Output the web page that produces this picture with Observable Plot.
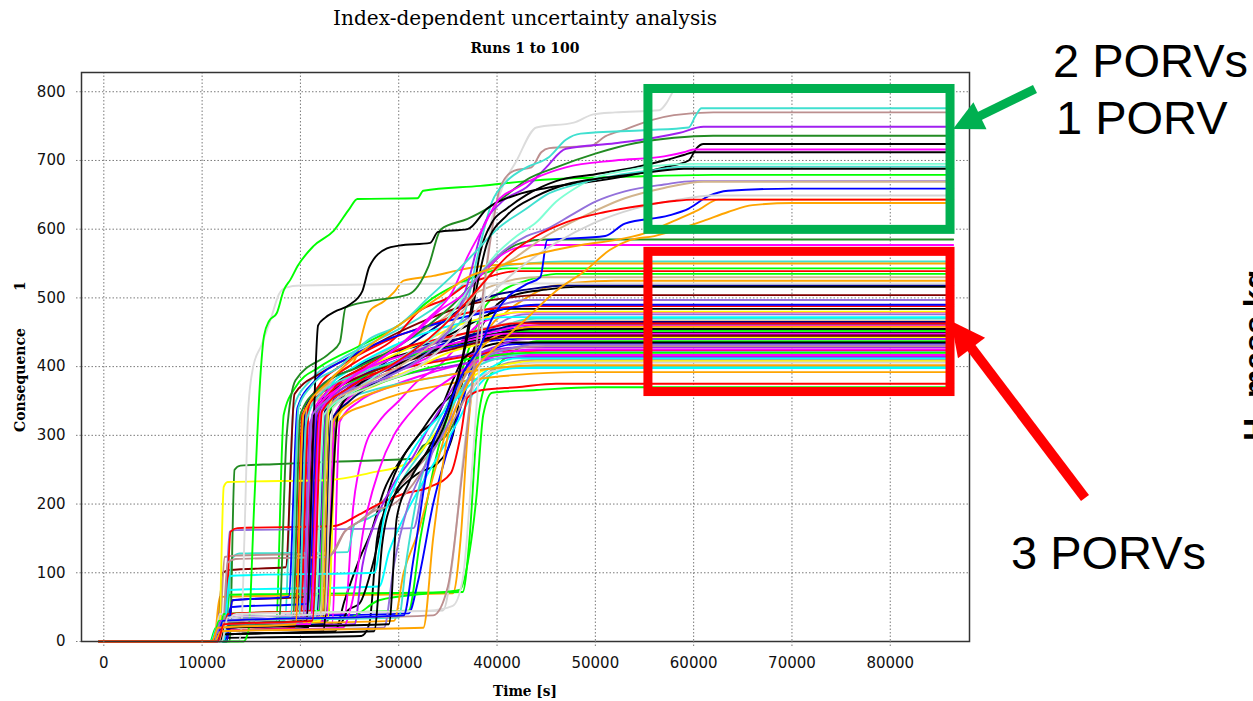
<!DOCTYPE html>
<html>
<head>
<meta charset="utf-8">
<script src="https://cdn.jsdelivr.net/npm/d3@7"></script>
<script src="https://cdn.jsdelivr.net/npm/@observablehq/plot@0.6"></script>
<style>
  html, body { margin: 0; padding: 0; background: #fff; }
  #wrap { position: relative; width: 1253px; height: 701px; overflow: hidden; }
  #wrap svg { position: absolute; left: 0; top: 0; }
</style>
</head>
<body>
<div id="wrap"></div>
<script>
// Each run: "t v t v ..." with t in thousands of seconds and v the consequence value.

// Runs ending high (two or one PORV available)
const upperRuns = [
  "-0.5 0 14.2 0 14.7 15 15.3 200 15.9 380 16.3 445 16.8 466 17.6 478 18.3 511 19.0 527 19.7 546 21.3 575 23.4 598 25.0 630 25.8 644 31.9 645 32.5 656 38.3 663 43.9 671 55 677 62 679 86.4 679",
  "-0.5 0 11.8 0 12.3 20 13.5 40 33 45 35.5 52 36.5 90 37.5 260 38.5 460 39.3 600 40.2 648 42 700 44 748 47.8 755 49.8 767 52 770 56.5 773 57.3 785 57.9 800 58.6 808 86.4 808",
  "-0.5 0 11.5 0 12.0 25 16.5 32 33.5 38 35 80 36.5 250 37.8 420 38.7 520 39.5 600 40.3 660 41.7 685 43.5 690 44.5 712 45.3 718 49.5 721 51 735 53 745 55.5 758 58 766 62 770 86.4 770",
  "-0.5 0 11 0 11.6 20 19.8 25 20.6 320 22 360 26 390 30 410 34 440 36.5 470 38 560 39.5 640 41 670 43 690 45.3 705 47 730 48.5 739 55 744 59.5 748 60.2 765 60.8 776 86.4 776",
  "-0.5 0 11.3 0 11.9 30 20.5 35 21.6 330 24 365 28 390 31.5 420 35 450 37 520 38.5 600 40.5 640 43 661 45 690 47 717 52 725 56 733 58.5 740 61 749 86.4 749",
  "-0.5 0 11.0 0 11.6 20 17.8 28 18.6 300 19.5 380 23 420 24 435 24.6 486 27 495 31 505 33 545 34.3 600 37 615 39 630 41 650 43 672 46 690 50 710 54 725 58 733 62 736 86.4 736",
  "-0.5 0 11.6 0 12.1 25 20.6 30 21.3 300 21.8 460 22.5 471 23.5 480 25 490 26.3 510 27 545 28.8 572 30 576 33.2 580 34 596 37 600 39 630 42 650 45 660 50 670 54 680 57 690 59.5 700 60.3 718 61 724 86.4 724",
  "-0.5 0 11.4 0 12.0 20 21.0 25 22.0 330 24 370 27 400 30 430 33 470 35.5 510 37 560 38.5 600 40 640 42 660 44 675 47 690 52 700 57 706 59 712 60 716 86.4 716",
  "-0.5 0 11.0 0 11.6 10 27.5 15 28.3 140 29.5 210 32 260 34.5 310 36 380 37.2 470 38.2 560 39.5 610 41 630 43 650 46 670 50 680 54 690 57 700 59 708 60 712 86.4 712",
  "-0.5 0 11.5 0 12.1 30 21.5 35 22.4 330 25 360 28 390 31 420 34 450 36 490 38 530 40 565 42 590 44 610 46 640 48 660 50 675 53 685 56 692 60 695 86.4 695",
  "-0.5 0 12.0 0 12.6 30 19.0 35 19.8 340 21 370 24 400 27 440 30 460 33 500 36 540 38 570 40 600 43 630 45 650 48 665 52 678 56 686 59 691 86.4 691",
  "-0.5 0 11.8 0 12.3 20 29.0 25 29.8 180 31 230 33 280 35 340 36.8 430 38 520 39 580 41 620 44 648 47 665 51 675 55 682 59 688 86.4 688",
  "-0.5 0 11.2 0 11.8 25 20.2 28 21.2 330 24 360 28 380 32 410 35 450 37.5 520 40 560 43 590 45 600 47.5 620 50 640 53 655 57 665 60 670 86.4 670",
  "-0.5 0 11.7 0 12.3 30 22.0 35 22.8 340 26 370 30 400 34 440 37 490 39 530 42 560 45 590 49 620 53 645 57 660 61 669 86.4 669",
  "-0.5 0 11.5 0 12.1 30 30.5 38 31.5 120 33 260 35 340 36.5 390 38.3 430 39.5 470 41 500 43 520 44.4 530 45.1 584 51 590 53 608 57.5 620 59.5 630 61.5 648 63.5 656 70 659 86.4 659",
  "-0.5 0 12.0 0 12.6 35 22.5 40 23.3 340 27 370 32 400 36 450 39 500 42 540 46 580 50 610 54 630 58 642 62 649 86.4 649",
  "-0.5 0 11.0 0 11.6 20 19.5 25 20.3 330 23 380 27 430 31 470 34 500 37 530 40 545 43 560 46 570 49 578 52 584 55 594 58 612 60.5 628 62.5 643 86.4 643",
  "-0.5 0 11.3 0 11.9 15 32.5 20 33.5 150 35 300 36.5 360 38 400 40 430 43 470 46 510 49 540 51.5 570 53.5 584 56 590 58.5 600 61 612 63.5 625 66 635 70 638 86.4 638",
  "-0.5 0 11.6 0 12.2 25 21.2 30 22.2 335 25 370 29 400 33 440 36 480 38.5 520 41 560 44 590 47 610 51 625 55 635 58 641 60 643 86.4 643"
];
const upperColors = ["#00ff00", "#dcdcdc", "#bc8f8f", "#40e0d0", "#a020f0", "#228b22", "#000000",
  "#ff00ff", "#000000", "#7fffd4", "#40e0d0", "#000000", "#9370db", "#d2b48c", "#0000ff",
  "#d3d3d3", "#ffa500", "#ffa500", "#ff0000"];

// Runs ending between the two groups
const middleRuns = [
  "-0.5 0 11.2 0 11.8 25 19.2 28 20.0 330 22 370 26 400 30 430 33 460 35.5 490 37.5 520 39.5 550 41 570 42.5 580 45 585 86.4 585",
  "-0.5 0 11.6 0 12.2 20 20.6 25 21.5 335 24 370 28 410 31 440 34 480 37 510 38.8 540 40.2 560 41.8 572 44 577 86.4 577"
];
const middleColors = ["#228b22", "#ff00ff"];

// Runs ending low (three PORVs available)
const lowerRuns = [
  "-0.5 0 11.0 0 11.6 25 18.4 30 19.3 340 21 380 24 410 28 440 32 470 35 500 37.5 530 40 545 43 550 47 553 86.4 553",
  "-0.5 0 11.4 0 12.0 25 20.8 30 21.7 340 23 380 25.5 409 27 480 28.5 495 29.5 508 30.5 525 33.5 532 36 540 37.8 545 40 548 44 550 86.4 550",
  "-0.5 0 10.8 0 11.4 20 17.5 25 18.3 330 19.5 370 22 400 26 430 30 460 33.5 500 36 520 38.5 535 41 543 86.4 543",
  "-0.5 0 11.4 0 12.0 25 20.0 30 20.9 345 23 380 26 410 29.5 440 32 480 35 500 37 520 39 530 42 539 86.4 539",
  "-0.5 0 12.0 0 12.6 40 31.0 45 32.2 150 34 280 35.5 350 37 420 38.5 480 40.5 510 43 525 46 535 86.4 535",
  "-0.5 0 11.6 0 12.2 30 19.8 35 20.7 340 23 375 27 410 31 440 34.5 470 37 500 40 520 44 530 86.4 530",
  "-0.5 0 11.2 0 11.8 65 35.5 70 36.3 150 37.0 300 37.8 400 39 450 41 480 43 500 45 515 48 522 52 525 86.4 525",
  "-0.5 0 11.3 0 11.9 25 21.6 30 22.5 335 25 370 28 400 31 430 34 460 37 490 40 505 43 512 47 518 86.4 518",
  "-0.5 0 11.7 0 12.3 10 23.5 15 24.5 60 26 120 27.2 160 28.5 220 30 260 32 300 34 340 36 370 37.5 420 38.5 460 40 490 42 505 45 512 48 516 86.4 516",
  "-0.5 0 11.5 0 12.1 100 12.8 104 18.5 108 19.4 360 22 390 26 420 30 450 34 475 37 490 40 498 44 504 86.4 504",
  "-0.5 0 11.6 0 12.2 20 20.4 25 21.3 330 24 360 28 390 32 420 35 450 37.5 475 40 488 43 497 86.4 497",
  "-0.5 0 11.1 0 11.7 20 22.2 25 22.9 330 24.5 360 27 390 30 410 33 430 35 445 37 460 39 475 41 484 86.4 484",
  "-0.5 0 11.8 0 12.4 35 24.5 40 25.4 200 26.5 280 28 320 30 350 32 380 34 400 36 430 38 460 40 472 42 479 86.4 479",
  "-0.5 0 12.2 0 12.8 160 13.5 162 31.5 165 32.5 230 34 300 35.5 350 37 400 38.5 440 40.5 465 43 476 86.4 476",
  "-0.5 0 12.4 0 13.0 120 13.8 128 24.8 130 25.5 170 27 180 29 200 31 250 32.5 280 34 320 35.5 360 37 400 39 440 41 460 44 470 86.4 470",
  "-0.5 0 11.2 0 11.8 30 19.0 35 19.8 320 22 355 25 380 29 410 33 430 36 445 40 460 44 466 86.4 466",
  "-0.5 0 12.8 0 13.3 250 13.9 256 17.3 258 24 262 31.5 266 32.5 285 34.5 295 36 330 37.5 400 39 440 42 455 45 461 86.4 461",
  "-0.5 0 11.6 0 12.2 20 21.0 25 21.8 335 24 360 27 390 30 410 33 425 36 440 39 450 42 455 86.4 455",
  "-0.5 0 11.9 0 12.5 30 19.6 35 20.5 340 22 370 25 395 28 415 32 430 36 440 40 448 44 453 86.4 453",
  "-0.5 0 12.0 0 12.5 15 20.8 20 21.5 300 22.5 360 24 380 27 400 31 420 35 430 38.5 440 42 449 86.4 449",
  "-0.5 0 10.9 0 11.5 5 26.2 8 27.0 25 27.8 150 28.6 190 30 220 32 245 34 260 35.5 300 36.5 380 37.5 420 39 440 42 447 86.4 447",
  "-0.5 0 11.4 0 12.0 25 22.8 30 23.6 330 25 360 28 390 32 415 36 430 40 440 43 445 86.4 445",
  "-0.5 0 12.2 0 12.8 68 36.5 72 37.2 150 37.9 300 38.6 365 40 400 42 425 44 437 86.4 437",
  "-0.5 0 11.8 0 12.4 35 31.0 41 32.0 90 33.5 200 35 280 36.5 350 37.6 405 39 420 42 433 86.4 433",
  "-0.5 0 11.3 0 11.9 20 20.2 25 21.0 320 23 350 26 375 30 395 34 410 38 420 42 428 86.4 428",
  "-0.5 0 11.0 0 11.6 15 19.4 20 20.2 330 22 360 25 380 29 395 33 405 37 415 41 423 86.4 423",
  "-0.5 0 11.5 0 12.1 20 23.2 25 24.0 320 26 350 29 370 33 390 37 405 41 417 86.4 417",
  "-0.5 0 11.2 0 11.8 30 21.8 35 22.6 330 24 355 27 375 31 390 35 400 39 410 43 414 86.4 414",
  "-0.5 0 11.7 0 12.3 123 13.3 125 23.2 128 24.5 160 26 175 28 200 31 240 33.5 280 35.5 320 37 360 39 390 41 405 44 410 86.4 410",
  "-0.5 0 11.7 0 12.2 225 12.6 232 23.0 235 27 245 31 260 33 290 35 330 36.5 370 38 390 40 400 44 408 86.4 408",
  "-0.5 0 11.2 0 11.8 40 34.5 45 35.5 120 36.5 260 37.3 350 38.2 385 40 395 44 406 86.4 406",
  "-0.5 0 11.6 0 12.2 25 20.8 30 21.6 320 23 345 26 360 30 375 34 385 38 395 42 400 86.4 400",
  "-0.5 0 12.1 0 12.7 75 28 80 29 130 30.5 180 32 220 34 270 36 320 37.5 360 39 385 42 398 86.4 398",
  "-0.5 0 11.9 0 12.5 30 22.2 35 23.0 300 24.5 330 27 345 30 360 34 372 38 382 42 388 48 392 86.4 392",
  "-0.5 0 12.3 0 12.9 160 13.6 165 23.4 168 26 185 28.1 201 30.5 215 33.2 225 35.3 245 36.3 300 37 355 38.5 366 42 370 46 375 86.4 375",
  "-0.5 0 11.5 0 12.1 30 25 35 28 60 33 70 36.2 75 37.2 130 37.9 210 38.6 330 39.5 362 44 366 50 370 86.4 370",
  "-0.5 0 11.3 0 11.9 25 22.6 30 23.5 330 25 355 28 380 31 400 34 420 37 440 40 452 43 460 86.4 460",
  "-0.5 0 10.9 0 11.5 20 21.3 25 22.0 330 23 370 25 395 28 420 31 440 34 455 37 465 41 472 86.4 472",
  "-0.5 0 12.1 0 12.7 30 22.8 35 23.7 320 25 350 28 375 32 400 35 420 38 432 41 442 86.4 442",
  "-0.5 0 11.4 0 12.0 20 19.9 25 20.8 340 22 375 24 400 27 425 30 445 33 460 36 475 40 485 44 488 86.4 488",
  "-0.5 0 11.9 0 12.4 20 24.0 25 24.8 45 26 55 27.5 120 29 220 30.5 270 32 300 34 330 35.5 380 36.5 410 38 425 41 435 86.4 435",
  "-0.5 0 12.3 0 12.9 50 20.8 55 21.7 330 23 360 26 385 30 410 34 425 38 435 42 440 86.4 440",
  "-0.5 0 11.1 0 11.7 30 20.6 35 21.5 330 23.5 360 27 390 31 415 35 430 39 445 43 452 86.4 452",
  "-0.5 0 11.6 0 12.2 25 29.5 30 30.5 100 32 160 33.5 240 34.5 290 35.5 340 36.5 380 38 420 40 445 44 458 86.4 458",
  "-0.5 0 11.0 0 11.6 15 24.3 20 25.3 60 26.5 170 28 250 29.5 300 31 330 33 360 35 380 37 400 40 418 44 425 86.4 425",
  "-0.5 0 11.5 0 12.1 20 25.5 25 26.3 110 27.5 170 29.5 230 31.5 270 33 310 34.5 345 36 380 37.5 410 40 430 43 440 86.4 440",
  "-0.5 0 11.3 0 11.9 30 30.0 35 30.8 120 32 220 33.5 290 35 330 36.5 370 38 400 41 415 45 421 86.4 421",
  "-0.5 0 12.0 0 12.6 115 13.4 120 22.8 123 24.5 160 26 175 27.5 190 29.5 200 31.5 230 33.5 280 35 340 36.5 380 38 410 41 425 45 430 86.4 430",
  "-0.5 0 11.7 0 12.3 20 22.4 25 23.1 320 25 350 28 380 32 410 36 440 40 455 44 465 86.4 465",
  "-0.5 0 12.5 0 13.1 60 20.4 65 21.3 330 23 360 26 385 30 405 34 420 38 435 42 445 86.4 445",
  "-0.5 0 11.6 0 12.2 40 21.9 45 22.7 330 24 350 27 370 31 390 35 405 39 415 43 420 86.4 420",
  "-0.5 0 11.8 0 12.4 25 22.0 30 22.9 340 24 370 27 400 30 420 33 440 36 460 39 472 43 480 86.4 480",
  "-0.5 0 11.2 0 11.8 10 22.3 15 23.0 150 23.8 330 25 360 28 390 32 415 36 435 40 448 44 455 86.4 455",
  "-0.5 0 13.7 0 14.0 20 14.3 150 14.7 340 15.2 400 16.0 430 17.0 470 17.8 505 18.5 515 20 518 40 521 86.4 521",
  "-0.5 0 11.9 0 12.5 15 28.5 20 29.5 110 31 200 32.5 250 34 290 35.5 330 37 380 38.5 410 41 425 44 432 86.4 432",
  "-0.5 0 12.2 0 12.8 95 13.5 96 27.5 100 28.5 180 30 240 31.5 280 33 310 35 340 37 370 39 395 42 412 86.4 412",
  "-0.5 0 11.7 0 12.3 30 20.3 35 21.2 330 22.5 360 25 385 29 410 33 425 37 438 41 448 86.4 448",
  "-0.5 0 11.4 0 12.0 30 22.4 35 23.3 320 25 345 28 365 32 380 36 390 40 398 44 402 86.4 402",
  "-0.5 0 12.0 0 12.6 40 21.0 45 21.9 335 23.5 370 26.5 400 30 425 34 440 38 452 42 463 86.4 463",
  "-0.5 0 12.5 0 13.1 60 18.8 65 19.7 340 21.5 380 24.5 410 28 435 32 455 36 470 40 482 44 490 86.4 490"
];
const lowerColors = ["#40e0d0", "#ffa500", "#00ff00", "#ff0000", "#00ff00", "#d2b48c", "#ffa500",
  "#000080", "#000000", "#800000", "#9370db", "#000000", "#ff00ff", "#9370db", "#40e0d0",
  "#d2b48c", "#228b22", "#0000ff", "#000080", "#000000", "#000000", "#228b22", "#00ff00",
  "#0000ff", "#a020f0", "#ff0000", "#ff00ff", "#a020f0", "#bc8f8f", "#ffff00", "#d3d3d3",
  "#40e0d0", "#00ffff", "#ffa500", "#ff0000", "#00ff00", "#ff00ff", "#00ffff", "#ffff00",
  "#ff0000", "#000000", "#0000ff", "#00ff00", "#ffa500", "#ff00ff", "#a020f0", "#40e0d0",
  "#bc8f8f", "#000080", "#800000", "#00ff00", "#ffff00", "#000000", "#dcdcdc", "#9370db",
  "#00ffff", "#ff00ff", "#ffa500", "#ff0000", "#0000ff"];

// Axis ticks
const xTicks = [0, 10000, 20000, 30000, 40000, 50000, 60000, 70000, 80000];
const yTicks = [0, 100, 200, 300, 400, 500, 600, 700, 800];

// Highlight boxes around the final plateaus (time in s, consequence)
const porvBoxes = [
  {t1: 55400, t2: 86130, v1: 599, v2: 804, color: "#00b050"},
  {t1: 55400, t2: 86130, v1: 363, v2: 567, color: "#ff0000"}
];

function parseRun(str) {
  const n = str.trim().split(/\s+/).map(Number);
  const pts = [];
  for (let i = 0; i < n.length; i += 2) pts.push({t: n[i] * 1000, v: n[i + 1]});
  return pts;
}

const allRuns = [];
const addGroup = (runs, colors) => runs.forEach((s, i) => allRuns.push({pts: parseRun(s), color: colors[i]}));
addGroup(lowerRuns, lowerColors);
addGroup(middleRuns, middleColors);
addGroup(upperRuns, upperColors);

const rows = [];
allRuns.forEach((r, k) => r.pts.forEach(p => rows.push({run: k, t: p.t, v: p.v, color: r.color})));

const W = 1253, H = 701;
const dotted = "1.5,2";

const chart = Plot.plot({
  width: W,
  height: H,
  marginLeft: 81,
  marginRight: 284,
  marginTop: 72,
  marginBottom: 60,
  style: {fontFamily: "DejaVu Sans", fontSize: "15px", background: "transparent", overflow: "visible", color: "#111"},
  x: {domain: [-2270, 88060]},
  y: {domain: [0, 828]},
  color: {type: "identity"},
  marks: [
    Plot.gridX(xTicks, {stroke: "#7a7a7a", strokeOpacity: 1, strokeDasharray: dotted}),
    Plot.gridY(yTicks, {stroke: "#7a7a7a", strokeOpacity: 1, strokeDasharray: dotted}),
    Plot.line(rows, {x: "t", y: "v", z: "run", stroke: "color", strokeWidth: 1.9, curve: "monotone-x"}),
    Plot.rect(porvBoxes, {x1: "t1", x2: "t2", y1: "v1", y2: "v2", stroke: "color", strokeWidth: 9, fill: "none"}),
    Plot.frame({stroke: "#333", strokeWidth: 1.5}),
    Plot.axisX(xTicks, {tickSize: 5, tickPadding: 11, stroke: "#7a7a7a", strokeDasharray: dotted, tickFormat: d => String(d), label: null}),
    Plot.axisY(yTicks, {tickSize: 5, tickPadding: 11, stroke: "#7a7a7a", strokeDasharray: dotted, tickFormat: d => String(d), label: null})
  ]
});

const wrap = document.getElementById("wrap");
wrap.appendChild(chart);

// Titles, axis labels and callouts
const svg = d3.select(wrap).append("svg")
  .attr("width", W).attr("height", H)
  .style("pointer-events", "none");

const serif = "DejaVu Serif";
svg.append("text").attr("x", 525).attr("y", 25).attr("text-anchor", "middle")
  .attr("font-family", serif).attr("font-size", 20).attr("textLength", 384).attr("lengthAdjust", "spacingAndGlyphs")
  .text("Index-dependent uncertainty analysis");
svg.append("text").attr("x", 525).attr("y", 53).attr("text-anchor", "middle")
  .attr("font-family", serif).attr("font-weight", "bold").attr("font-size", 14).attr("textLength", 109).attr("lengthAdjust", "spacingAndGlyphs")
  .text("Runs 1 to 100");
svg.append("text").attr("x", 525).attr("y", 696).attr("text-anchor", "middle")
  .attr("font-family", serif).attr("font-weight", "bold").attr("font-size", 14).attr("textLength", 64).attr("lengthAdjust", "spacingAndGlyphs")
  .text("Time [s]");
svg.append("text").attr("transform", "translate(25,380) rotate(-90)").attr("text-anchor", "middle")
  .attr("font-family", serif).attr("font-weight", "bold").attr("font-size", 14).attr("textLength", 104).attr("lengthAdjust", "spacingAndGlyphs")
  .text("Consequence");
svg.append("text").attr("transform", "translate(25,286) rotate(-90)").attr("text-anchor", "middle")
  .attr("font-family", serif).attr("font-weight", "bold").attr("font-size", 14)
  .text("1");

// Arrow from a label to a box: shaft plus filled triangular head
function arrow(x0, y0, x1, y1, headLen, headHalf, width, color) {
  const dx = x1 - x0, dy = y1 - y0, len = Math.hypot(dx, dy);
  const ux = dx / len, uy = dy / len, nx = -uy, ny = ux;
  const bx = x1 - ux * headLen, by = y1 - uy * headLen;
  svg.append("line").attr("x1", x0).attr("y1", y0).attr("x2", bx + ux * 2).attr("y2", by + uy * 2)
    .attr("stroke", color).attr("stroke-width", width);
  svg.append("polygon")
    .attr("points", [[x1, y1], [bx + nx * headHalf, by + ny * headHalf], [bx - nx * headHalf, by - ny * headHalf]].map(p => p.join(",")).join(" "))
    .attr("fill", color);
}
arrow(1035, 89, 953, 129, 30, 15, 9, "#00b050");
arrow(1085, 498, 951, 321, 34, 17, 10, "#ff0000");

const sans = "Liberation Sans, Arial, sans-serif";
[["2 PORVs", 1053, 77], ["1 PORV", 1056, 134], ["3 PORVs", 1011, 569]].forEach(([s, x, y]) => {
  svg.append("text").attr("x", x).attr("y", y).attr("font-family", sans).attr("font-size", 47).attr("fill", "#000").text(s);
});

// Side label, mostly beyond the right edge
const side = svg.append("text").attr("transform", "translate(1266,441) rotate(-90)")
  .attr("font-family", sans).attr("font-weight", "bold").attr("font-size", 32).attr("fill", "#000");
side.append("tspan").text("H");
side.append("tspan").attr("font-size", 20).attr("dy", 6).text("2");
side.append("tspan").attr("dy", -6).text(" mass kg");
</script>
</body>
</html>
